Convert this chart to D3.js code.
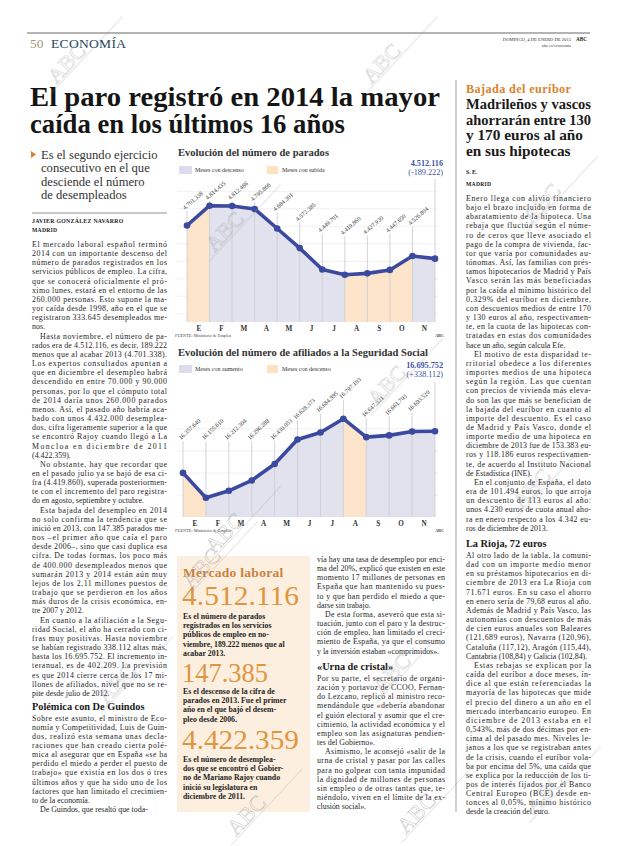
<!DOCTYPE html>
<html><head><meta charset="utf-8">
<script src="https://cdn.jsdelivr.net/npm/d3@7"></script>
<style>body{margin:0;background:#fff}svg{display:block}</style>
</head><body>
<svg id="page" width="620" height="846"></svg>
<script>
// ---------- DATA ----------
const months = ["E","F","M","A","M","J","J","A","S","O","N"];
const paradosValues = [4701338,4814435,4812486,4795866,4684301,4572385,4449701,4419860,4427930,4447650,4526804,4512116];
const afiliadosValues = [16357640,16155610,16212304,16296288,16430053,16628373,16684995,16797103,16647321,16661703,16693520,16695752];
const paradosGrid = [4200000,4300000,4400000,4500000,4600000,4700000,4800000,4900000];
const afiliadosGrid = [16180000,16360000,16540000,16720000];

const headline = ["El paro registró en 2014 la mayor","caída en los últimos 16 años"];
const subtitle = ["Es el segundo ejercicio","consecutivo en el que","desciende el número","de desempleados"];
const leftBody = [
 ["El mercado laboral español terminó","2014 con un importante descenso del","número de parados registrados en los","servicios públicos de empleo. La cifra,","que se conocerá oficialmente el pró-","ximo lunes, estará en el entorno de las","260.000 personas. Esto supone la ma-","yor caída desde 1998, año en el que se","registraron 333.645 desempleados me-","nos."],
 ["Hasta noviembre, el número de pa-","rados era de 4.512.116, es decir, 189.222","menos que al acabar 2013 (4.701.338).","Los expertos consultados apuntan a","que en diciembre el desempleo habrá","descendido en entre 70.000 y 90.000","personas, por lo que el cómputo total","de 2014 daría unos 260.000 parados","menos. Así, el pasado año habría aca-","bado con unos 4.432.000 desemplea-","dos, cifra ligeramente superior a la que","se encontró Rajoy cuando llegó a La","Moncloa en diciembre de 2011","(4.422.359)."],
 ["No obstante, hay que recordar que","en el pasado julio ya se bajó de esa ci-","fra (4.419.860), superada posteriormen-","te con el incremento del paro registra-","do en agosto, septiembre y octubre."],
 ["Esta bajada del desempleo en 2014","no solo confirma la tendencia que se","inició en 2013, con 147.385 parados me-","nos –el primer año que caía el paro","desde 2006–, sino que casi duplica esa","cifra. De todas formas, los poco más","de 400.000 desempleados menos que","sumarán 2013 y 2014 están aún muy","lejos de los 2,11 millones puestos de","trabajo que se perdieron en los años","más duros de la crisis económica, en-","tre 2007 y 2012."],
 ["En cuanto a la afiliación a la Segu-","ridad Social, el año ha cerrado con ci-","fras muy positivas. Hasta noviembre","se habían registrado 338.112 altas más,","hasta los 16.695.752. El incremento in-","teranual, es de 402.209. La previsión","es que 2014 cierre cerca de los 17 mi-","llones de afiliados, nivel que no se re-","pite desde julio de 2012."]
];
const leftBody2 = [
 ["Sobre este asunto, el ministro de Eco-","nomía y Competitividad, Luis de Guin-","dos, realizó esta semana unas decla-","raciones que han creado cierta polé-","mica al asegurar que en España «se ha","perdido el miedo a perder el puesto de","trabajo» que existía en los dos ó tres","últimos años y que ha sido uno de los","factores que han limitado el crecimien-","to de la economía."],
 ["De Guindos, que resaltó que toda-"]
];
const midBody = [
 ["vía hay una tasa de desempleo por enci-","ma del 20%, explicó que existen en este","momento 17 millones de personas en","España que han mantenido su pues-","to y que han perdido el miedo a que-","darse sin trabajo."],
 ["De esta forma, aseveró que esta si-","tuación, junto con el paro y la destruc-","ción de empleo, han limitado el creci-","miento de España, ya que el consumo","y la inversión estaban «comprimidos»."]
];
const midBody2 = [
 ["Por su parte, el secretario de organi-","zación y portavoz de CCOO, Fernan-","do Lezcano, replicó al ministro reco-","mendándole que «debería abandonar","el guión electoral y asumir que el cre-","cimiento, la actividad económica y el","empleo son las asignaturas pendien-","tes del Gobierno»."],
 ["Asimismo, le aconsejó «salir de la","urna de cristal y pasar por las calles","para no golpear con tanta impunidad","la dignidad de millones de personas","sin empleo o de otras tantas que, te-","niéndolo, viven en el límite de la ex-","clusión social»."]
];
const rightHead = ["Madrileños y vascos","ahorrarán entre 130","y 170 euros al año","en sus hipotecas"];
const rightBody = [
 ["Enero llega con alivio financiero","bajo el brazo incluido en forma de","abaratamiento de la hipoteca. Una","rebaja que fluctúa según el núme-","ro de ceros que lleve asociado el","pago de la compra de vivienda, fac-","tor que varía por comunidades au-","tónomas. Así, las familias con prés-","tamos hipotecarios de Madrid y País","Vasco serán las más beneficiadas","por la caída al mínimo histórico del","0,329% del euríbor en diciembre,","con descuentos medios de entre 170","y 130 euros al año, respectivamen-","te, en la cuota de las hipotecas con-","tratadas en estas dos comunidades","hace un año, según calcula Efe."],
 ["El motivo de esta disparidad te-","rritorial obedece a los diferentes","importes medios de una hipoteca","según la región. Las que cuentan","con precios de vivienda más eleva-","do son las que más se benefician de","la bajada del euríbor en cuanto al","importe del descuento. Es el caso","de Madrid y País Vasco, donde el","importe medio de una hipoteca en","diciembre de 2013 fue de 153.383 eu-","ros y 118.186 euros respectivamen-","te, de acuerdo al Instituto Nacional","de Estadística (INE)."],
 ["En el conjunto de España, el dato","era de 101.494 euros, lo que arroja","un descuento de 113 euros al año:","unos 4.230 euros de cuota anual aho-","ra en enero respecto a los 4.342 eu-","ros de diciembre de 2013."]
];
const rightBody2 = [
 ["Al otro lado de la tabla, la comuni-","dad con un importe medio menor","en su préstamos hipotecarios en di-","ciembre de 2013 era La Rioja con","71.671 euros. En su caso el ahorro","en enero sería de 79,68 euros al año.","Además de Madrid y País Vasco, las","autonomías con descuentos de más","de cien euros anuales son Baleares","(121,689 euros), Navarra (120,96),","Cataluña (117,12), Aragón (115,44),","Cantabria (108,84) y Galicia (102,84)."],
 ["Estas rebajas se explican por la","caída del euríbor a doce meses, ín-","dice al que están referenciadas la","mayoría de las hipotecas que mide","el precio del dinero a un año en el","mercado interbancario europeo. En","diciembre de 2013 estaba en el","0,543%, más de dos décimas por en-","cima al del pasado mes. Niveles le-","janos a los que se registraban antes","de la crisis, cuando el euríbor vola-","ba por encima del 5%, una caída que","se explica por la reducción de los ti-","pos de interés fijados por el Banco","Central Europeo (BCE) desde en-","tonces al 0,05%, mínimo histórico","desde la creación del euro."]
];
const boxNumbers = ["4.512.116","147.385","4.422.359"];
const boxTexts = [
 ["Es el número de parados","registrados en los servicios","públicos de empleo en no-","viembre, 189.222 menos que al","acabar 2013."],
 ["Es el descenso de la cifra de","parados en 2013. Fue el primer","año en el que bajó el desem-","pleo desde 2006."],
 ["Es el número de desemplea-","dos que se encontró el Gobier-","no de Mariano Rajoy cuando","inició su legislatura en","diciembre de 2011."]
];

// ---------- SETUP ----------
const svg = d3.select("#page");
const SERIF = "'Liberation Serif','DejaVu Serif',serif";
const es = d3.formatLocale({decimal:",",thousands:".",grouping:[3],currency:["","€"]});
const fmt = es.format(",d");
const fmtSigned = v => (v>=0?"+":"-") + fmt(Math.abs(v));
const ORANGE = "#d9842f", BLUE = "#3b4a9e", LAV = "#e2e2ef", PEACH = "#fde5cb";

const wmLayer = svg.append("g").attr("opacity",0.5);
function watermark(cx, cy){
  const g = wmLayer.append("g").attr("transform",`translate(${cx},${cy}) rotate(-47)`);
  g.append("line").attr("x1",-30).attr("y1",2).attr("x2",75).attr("y2",2).attr("stroke","#9a9a9a").attr("stroke-width",0.6);
  g.append("text").attr("x",-20).attr("y",0).text("ABC").attr("font-family",SERIF).attr("font-size",22)
    .attr("fill","none").attr("stroke","#9a9a9a").attr("stroke-width",0.6);
}

function lineText(g, x, y, str, size, opts={}){
  const t = g.append("text").attr("x",x).attr("y",y).text(str)
    .attr("font-family",opts.family||SERIF).attr("font-size",size)
    .attr("fill",opts.fill||"#262626");
  if(opts.weight) t.attr("font-weight",opts.weight);
  if(opts.anchor) t.attr("text-anchor",opts.anchor);
  if(opts.ls) t.attr("letter-spacing",opts.ls);
  if(opts.width){
    const w = t.node().getComputedTextLength();
    if(opts.force || w > opts.width) t.attr("textLength",opts.width).attr("lengthAdjust",opts.adjust||"spacing");
  }
  return t;
}
function paragraphs(g, x, y0, width, paras, opts={}){
  const lh = opts.lh||9.16, size = opts.size||7.9, indent = opts.indent===undefined?8:opts.indent;
  let y = y0;
  paras.forEach((p,pi)=>{
    p.forEach((ln,li)=>{
      const ind = (li===0 && (pi>0 || opts.firstIndent)) ? indent : 0;
      const last = li===p.length-1 && !opts.justifyLast;
      lineText(g, x+ind, y, ln, size, {width: width-ind, force: !last, weight: opts.weight, fill: opts.fill});
      y += lh;
    });
  });
  return y;
}

// ---------- HEADER ----------
svg.append("line").attr("x1",27).attr("x2",590).attr("y1",33).attr("y2",33).attr("stroke","#6a6a6a").attr("stroke-width",1.2);
lineText(svg,30,48,"50",13.5,{fill:"#a8977a"});
lineText(svg,51,48,"ECONOMÍA",13.5,{fill:"#23465a",width:75,force:true});
lineText(svg,571,41,"DOMINGO, 4 DE ENERO DE 2015",4.6,{anchor:"end",fill:"#333"});
lineText(svg,576,41,"ABC",5.2,{weight:"bold",fill:"#222"});
lineText(svg,571,47,"abc.es/economia",4.4,{anchor:"end",fill:"#444"});

lineText(svg,30,106,headline[0],27.5,{weight:"bold",fill:"#151515",width:410,force:true,adjust:"spacingAndGlyphs"});
lineText(svg,30,133,headline[1],27.5,{weight:"bold",fill:"#151515",width:315,force:true,adjust:"spacingAndGlyphs"});

// ---------- LEFT COLUMN ----------
svg.append("path").attr("d","M31,151 L36,154.5 L31,158 Z").attr("fill","#e07b2a");
subtitle.forEach((s,i)=>lineText(svg,41,159+i*13.4,s,12.6,{fill:"#333",width:124}));
svg.append("line").attr("x1",32).attr("x2",167).attr("y1",213).attr("y2",213).attr("stroke","#b5b5b5").attr("stroke-width",1.6);
lineText(svg,32,223,"JAVIER GONZÁLEZ NAVARRO",5.8,{weight:"bold",fill:"#222",ls:0.3});
lineText(svg,32,232,"MADRID",5.6,{weight:"bold",fill:"#222",ls:0.3});
paragraphs(svg,32,247,135,leftBody);
lineText(svg,32,709.5,"Polémica con De Guindos",10.3,{weight:"bold",fill:"#1a1a1a"});
paragraphs(svg,32,720.5,135,leftBody2);

// ---------- RIGHT COLUMN ----------
svg.append("line").attr("x1",456).attr("x2",456).attr("y1",80).attr("y2",812).attr("stroke","#c4c4c4").attr("stroke-width",1.6);
lineText(svg,466,93,"Bajada del euríbor",12.2,{weight:"bold",fill:ORANGE,ls:0.4});
rightHead.forEach((s,i)=>lineText(svg,466,109+i*15.7,s,15.3,{weight:"bold",fill:"#1a1a1a",width:125,adjust:"spacingAndGlyphs"}));
lineText(svg,466,174,"S. E.",5.8,{weight:"bold",fill:"#222"});
lineText(svg,466,186,"MADRID",5.6,{weight:"bold",fill:"#222",ls:0.3});
paragraphs(svg,466,201,125,rightBody);
lineText(svg,466,546.5,"La Rioja, 72 euros",10.3,{weight:"bold",fill:"#1a1a1a"});
paragraphs(svg,466,558,125,rightBody2);

// ---------- MIDDLE BOTTOM ----------
svg.append("rect").attr("x",177).attr("y",556).attr("width",133).attr("height",256).attr("fill","#fcefdf");
lineText(svg,183,577,"Mercado laboral",13.5,{weight:"bold",fill:"#c9823d",ls:0.3});
const bigY = [605,682,749], txtY = [619,694,762];
boxNumbers.forEach((n,i)=>{
  lineText(svg,182,bigY[i],n,27,{fill:"#e0953f",width:i===1?86:117,force:true,adjust:"spacingAndGlyphs"});
  boxTexts[i].forEach((s,j)=>lineText(svg,183,txtY[i]+j*9.2,s,7.8,{weight:"bold",fill:"#1e1e1e",width:121}));
});
paragraphs(svg,317,562,128,midBody);
lineText(svg,317,669.5,"«Urna de cristal»",10.3,{weight:"bold",fill:"#1a1a1a"});
paragraphs(svg,317,681,128,midBody2);

// ---------- CHARTS ----------
function drawChart(cfg){
  const g = svg.append("g");
  const vals = cfg.values;
  const x = d3.scaleLinear().domain([0, vals.length-1]).range(cfg.xRange);
  const y = d3.scaleLinear().domain(cfg.yDomain).range(cfg.yRange);
  const bottom = cfg.yRange[0];
  lineText(g,178,cfg.titleY,cfg.title,10.8,{weight:"bold",fill:"#333",width:cfg.titleW,force:true,adjust:"spacingAndGlyphs"});
  const ly = cfg.legendY;
  g.append("rect").attr("x",179).attr("y",ly-4).attr("width",13).attr("height",8).attr("fill","#dcdcec");
  lineText(g,195,ly+2,cfg.legend[0],6,{fill:"#333"});
  g.append("rect").attr("x",267).attr("y",ly-4).attr("width",11).attr("height",8).attr("fill","#fde2c2");
  lineText(g,282,ly+2,cfg.legend[1],6,{fill:"#333"});
  const ga = g.append("g").attr("transform","translate(177,0)")
    .call(d3.axisLeft(y).tickValues(cfg.grid).tickSize(-261).tickFormat(""));
  ga.select(".domain").remove();
  ga.selectAll(".tick line").attr("stroke","#ebebeb").attr("stroke-width",0.7);
  const area = d3.area().x(d=>x(d.i)).y0(bottom).y1(d=>y(d.v));
  d3.range(vals.length-1).forEach(i=>{
    const up = vals[i+1] > vals[i];
    g.append("path").attr("d",area([{i,v:vals[i]},{i:i+1,v:vals[i+1]}]))
      .attr("fill", up ? cfg.upColor : cfg.downColor);
  });
  vals.forEach((v,i)=>{
    const top = i===vals.length-1 ? cfg.lastTop : cfg.labelY(y(v));
    g.append("line").attr("x1",x(i)).attr("x2",x(i)).attr("y1",bottom).attr("y2",top+1)
      .attr("stroke","#c9c9cf").attr("stroke-width",0.8);
  });
  g.append("path").attr("d",d3.line().x((d,i)=>x(i)).y(d=>y(d))(vals))
    .attr("fill","none").attr("stroke",BLUE).attr("stroke-width",3.6).attr("stroke-linejoin","round");
  g.selectAll("circle.pt").data(vals).join("circle").attr("class","pt")
    .attr("cx",(d,i)=>x(i)).attr("cy",d=>y(d)).attr("r",3.3).attr("fill",BLUE);
  vals.slice(0,-1).forEach((v,i)=>{
    const ly2 = cfg.labelY(y(v));
    g.append("text").attr("transform",`translate(${x(i)-2},${ly2}) rotate(${cfg.angle})`)
      .text(fmt(v)).attr("font-family",SERIF).attr("font-size",6.1).attr("fill","#333");
  });
  const last = vals[vals.length-1], diff = last - vals[0];
  lineText(g,443,cfg.lastLabelY,fmt(last),8.2,{anchor:"end",fill:"#4252a8",weight:"bold"});
  lineText(g,443,cfg.lastLabelY+9,"("+fmtSigned(diff)+")",8.2,{anchor:"end",fill:"#4252a8"});
  const xm = d3.scalePoint().domain(d3.range(months.length)).range([x(0.5), x(vals.length-1.5)]);
  const ax = g.append("g").attr("transform",`translate(0,${bottom})`)
    .call(d3.axisBottom(xm).tickSize(0).tickPadding(4).tickFormat(i=>months[i]));
  ax.select(".domain").remove();
  ax.selectAll("text").attr("font-family",SERIF).attr("font-size",7.2).attr("font-weight","bold").attr("fill","#333");
  lineText(g,175,bottom+15,"FUENTE: Ministerio de Empleo",4.3,{fill:"#444"});
  lineText(g,444,bottom+15,"ABC",4.3,{anchor:"end",fill:"#444",weight:"bold"});
}

drawChart({
  values: paradosValues, title: "Evolución del número de parados", titleY:156, titleW:151,
  legend:["Meses con descenso","Meses con subida"], legendY:170,
  xRange:[187,435], yDomain:[4150000,4990000], yRange:[322,175], grid: paradosGrid,
  upColor: PEACH, downColor: LAV, angle:-41,
  labelY: py => 95 + 0.51*py, lastTop:178, lastLabelY:166
});
drawChart({
  values: afiliadosValues, title: "Evolución del número de afiliados a la Seguridad Social", titleY:356, titleW:250,
  legend:["Meses con aumento","Meses con descenso"], legendY:369,
  xRange:[183,435], yDomain:[16000000,16900000], yRange:[517,406], grid: afiliadosGrid,
  upColor: LAV, downColor: PEACH, angle:-43,
  labelY: py => Math.min(440, py-20), lastTop:381, lastLabelY:368
});

[[70,70],[385,70],[228,238],[390,392],[228,540],[205,575],[120,690],[250,822],[420,820],[535,495],[548,800],[545,210],[395,680]].forEach(p=>watermark(p[0],p[1]));
wmLayer.raise();
</script>
</body></html>
